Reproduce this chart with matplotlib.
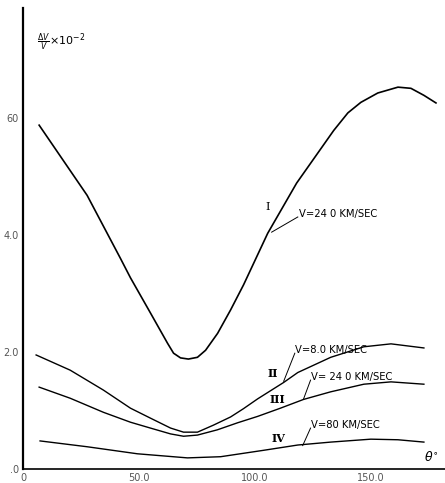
import matplotlib
matplotlib.use('Agg')
import matplotlib.pyplot as plt

# curve I: V = 24.0 km/sec
theta_1 = [6.9, 27.6, 42, 46.3, 54.9, 62.3, 64.9, 67.9, 71.3, 75.2, 78.7, 83.9, 89.5, 95.1,
           105.5, 118, 134, 140.1, 145.7, 153, 161.7, 167.3, 172.9, 178.1]
dv_1 = [5.88, 4.68, 3.60, 3.27, 2.67, 2.15, 1.98, 1.90, 1.88, 1.91, 2.03, 2.32, 2.72, 3.15,
        4.03, 4.89, 5.79, 6.09, 6.27, 6.43, 6.53, 6.51, 6.39, 6.26]

# curve II: V = 8.0 km/sec
theta_2 = [5.6, 20.3, 34.6, 46.3, 54.9, 63.6, 69.2, 75.2, 82.1, 89.5, 95, 101.2, 112.4,
           118.5, 132.7, 147, 158.7, 172.9]
dv_2 = [1.95, 1.69, 1.35, 1.04, 0.87, 0.70, 0.63, 0.63, 0.75, 0.89, 1.03, 1.20, 1.48,
        1.65, 1.91, 2.09, 2.14, 2.07]

# curve III: V = 24.0 km/sec
theta_3 = [6.9, 20.3, 34.6, 46.3, 54.9, 63.6, 69.2, 75.2, 83.8, 92.5, 101.2, 111, 121,
           132.7, 147, 158.7, 172.9]
dv_3 = [1.40, 1.21, 0.97, 0.80, 0.70, 0.60, 0.56, 0.58, 0.67, 0.79, 0.90, 1.04, 1.19,
        1.32, 1.45, 1.49, 1.45]

# curve IV: V = 80 km/sec
theta_4 = [7.3, 27.7, 49.3, 70.9, 85.2, 103.8, 118.5, 132.7, 150, 161.7, 172.9]
dv_4 = [0.48, 0.38, 0.26, 0.19, 0.21, 0.32, 0.41, 0.46, 0.51, 0.50, 0.46]

x_ticks = [0, 50, 100, 150]
x_tick_labels = ['0', '50.0', '100.0', '150.0']
y_ticks = [0, 2, 4, 6]
y_tick_labels = ['.0', '2.0', '4.0', '60']

# (numeral, numeral pos, leader start, leader end, speed text)
labels = [
    ('I', (105.5, 4.48), (107.2, 4.05), (118.5, 4.31), 'V=24 0 KM/SEC'),
    ('II', (107.7, 1.64), (112.4, 1.50), (117.2, 1.98), 'V=8.0 KM/SEC'),
    ('III', (109.8, 1.18), (121.0, 1.20), (124.0, 1.52), 'V= 24 0 KM/SEC'),
    ('IV', (110.2, 0.53), (120.6, 0.40), (124.0, 0.70), 'V=80 KM/SEC'),
]

fig = plt.figure(figsize=(4.45, 4.83), dpi=100)
ax = fig.add_axes([0.052, 0.029, 0.948, 0.954])

for th, dv, w in [(theta_1, dv_1, 1.2), (theta_2, dv_2, 1.0),
                  (theta_3, dv_3, 1.0), (theta_4, dv_4, 1.0)]:
    ax.plot(th, dv, color='black', lw=w, solid_joinstyle='round')

for num, npos, p0, p1, txt in labels:
    ax.text(npos[0], npos[1], num, family='DejaVu Serif', fontsize=8,
            fontweight='bold' if num != 'I' else 'normal', ha='center', va='center')
    ax.plot([p0[0], p1[0]], [p0[1], p1[1]], color='black', lw=0.7)
    ax.text(p1[0] + 0.3, p1[1] + 0.05, txt, fontsize=7.2, ha='left', va='center')

ax.text(6, 7.3, r'$\frac{\Delta V}{V}$' + r'$\times 10^{-2}$', fontsize=8, ha='left', va='center')
ax.text(176, 0.2, r'$\theta^{\circ}$', fontsize=9, ha='center', va='center')

ax.set_xlim(0, 182)
ax.set_ylim(0, 7.88)
ax.spines['top'].set_visible(False)
ax.spines['right'].set_visible(False)
ax.spines['left'].set_linewidth(1.6)
ax.spines['bottom'].set_linewidth(1.2)
ax.set_xticks(x_ticks)
ax.set_xticklabels(x_tick_labels)
ax.set_yticks(y_ticks)
ax.set_yticklabels(y_tick_labels)
ax.tick_params(length=0, labelsize=7, colors='#555555', pad=3)

fig.savefig('out.png', dpi=100)
